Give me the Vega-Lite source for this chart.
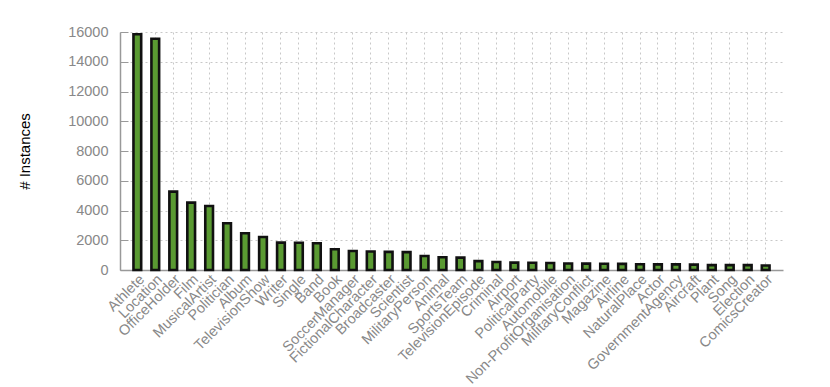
{
  "$schema": "https://vega.github.io/schema/vega-lite/v6.json",
  "autosize": "none",
  "padding": {"left": 120, "top": 32, "right": 47, "bottom": 117},
  "width": 663,
  "height": 238,
  "background": "white",
  "data": {"values": [
    {"c": "Athlete", "v": 15850},
    {"c": "Location", "v": 15550},
    {"c": "OfficeHolder", "v": 5270},
    {"c": "Film", "v": 4530},
    {"c": "MusicalArtist", "v": 4300},
    {"c": "Politician", "v": 3140},
    {"c": "Album", "v": 2470},
    {"c": "TelevisionShow", "v": 2220},
    {"c": "Writer", "v": 1840},
    {"c": "Single", "v": 1830},
    {"c": "Band", "v": 1800},
    {"c": "Book", "v": 1390},
    {"c": "SoccerManager", "v": 1280},
    {"c": "FictionalCharacter", "v": 1240},
    {"c": "Broadcaster", "v": 1220},
    {"c": "Scientist", "v": 1200},
    {"c": "MilitaryPerson", "v": 940},
    {"c": "Animal", "v": 860},
    {"c": "SportsTeam", "v": 830},
    {"c": "TelevisionEpisode", "v": 600},
    {"c": "Criminal", "v": 540},
    {"c": "Airport", "v": 495},
    {"c": "PoliticalParty", "v": 490},
    {"c": "Automobile", "v": 470},
    {"c": "Non-ProfitOrganisation", "v": 435},
    {"c": "MilitaryConflict", "v": 430},
    {"c": "Magazine", "v": 425},
    {"c": "Airline", "v": 410},
    {"c": "NaturalPlace", "v": 385},
    {"c": "Actor", "v": 380},
    {"c": "GovernmentAgency", "v": 378},
    {"c": "Aircraft", "v": 360},
    {"c": "Plant", "v": 330},
    {"c": "Song", "v": 328},
    {"c": "Election", "v": 325},
    {"c": "ComicsCreator", "v": 305}
  ]},
  "mark": {"type": "bar", "fill": "#5a9a32", "stroke": "#111111", "strokeWidth": 2.6},
  "encoding": {
    "x": {
      "field": "c", "type": "nominal", "sort": null,
      "scale": {"paddingInner": 0.57, "paddingOuter": 0.75},
      "axis": {
        "title": null, "labelAngle": -45, "labelFontSize": 14.5, "labelFont": "Liberation Sans",
        "labelColor": "#888888", "domainColor": "#999999", "domainWidth": 1.5,
        "tickSize": -4, "tickColor": "#999999", "labelPadding": 6,
        "grid": true, "gridColor": "#c8c8c8", "gridDash": [2, 3], "gridWidth": 1
      }
    },
    "y": {
      "field": "v", "type": "quantitative",
      "scale": {"domain": [0, 16000], "nice": false},
      "axis": {
        "title": "# Instances", "titleFontSize": 15, "titleFont": "Liberation Sans",
        "titleFontWeight": "normal", "titleColor": "#000000", "titlePadding": 35,
        "values": [0, 2000, 4000, 6000, 8000, 10000, 12000, 14000, 16000],
        "format": "d",
        "labelFontSize": 14.5, "labelFont": "Liberation Sans", "labelColor": "#888888",
        "labelPadding": 20,
        "domainColor": "#999999", "domainWidth": 1.5,
        "tickSize": -8, "tickColor": "#999999",
        "grid": true, "gridColor": "#c8c8c8", "gridDash": [2, 3], "gridWidth": 1
      }
    }
  },
  "config": {"view": {"stroke": null}}
}
